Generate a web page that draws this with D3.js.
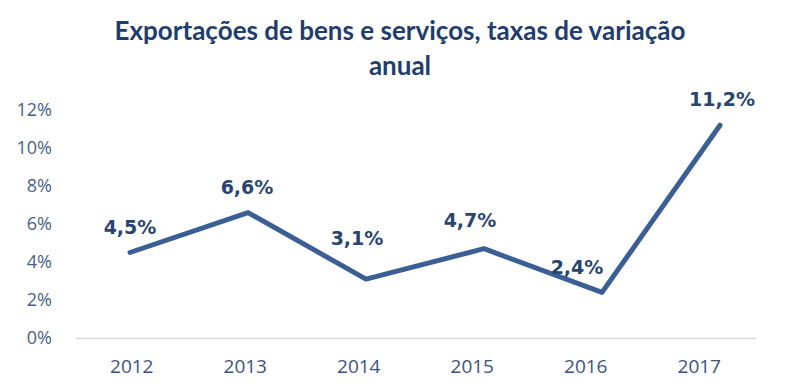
<!DOCTYPE html>
<html>
<head>
<meta charset="utf-8">
<script src="https://cdn.jsdelivr.net/npm/d3@7"></script>
<style>
  body { margin: 0; background: #fff; }
  svg { display: block; }
</style>
</head>
<body>
<svg class="chart"></svg>
<script>
var years = ["2012", "2013", "2014", "2015", "2016", "2017"];
var taxa = [4.5, 6.6, 3.1, 4.7, 2.4, 11.2];
var yTicks = [0, 2, 4, 6, 8, 10, 12];
var titleLines = ["Exportações de bens e serviços, taxas de variação", "anual"];

// label nudges (dx, dy) relative to each point
var labelNudge = [[0, -19], [-1, -19], [-9, -34], [-14, -22], [-25, -18], [2, -19]];

var width = 800;
var height = 392;
var svg = d3.select(".chart").attr("width", width).attr("height", height);

// category labels and line points are not aligned in the original picture
var xAxisScale = d3.scaleBand()
    .domain(years)
    .range([75, 756]);

var x = d3.scalePoint()
    .domain(years)
    .range([130, 720]);

var y = d3.scaleLinear()
    .domain([0, 12])
    .range([338, 110]);

// title
svg.append("text")
    .attr("x", 400)
    .attr("y", 40)
    .attr("text-anchor", "middle")
    .style("font-family", "Lato, 'Open Sans', sans-serif")
    .style("font-weight", "bold")
    .style("font-size", "26px")
    .style("fill", "#1f3d6d")
    .selectAll("tspan")
    .data(titleLines)
    .enter().append("tspan")
    .attr("x", 400)
    .attr("dy", function(d, i){ return i == 0 ? 0 : 35 })
    .text(function(d){ return d });

// y axis (labels only)
var yAxis = d3.axisLeft(y)
    .tickValues(yTicks)
    .tickFormat(function(d){ return d + "%" })
    .tickSize(0)
    .tickPadding(0);

var gy = svg.append("g")
    .attr("transform", "translate(52,0)")
    .call(yAxis);
gy.select(".domain").remove();
gy.selectAll("text")
    .style("font-family", "'Open Sans', sans-serif")
    .style("font-size", "18px")
    .style("fill", "#4a5f88");

// x axis
var xAxis = d3.axisBottom(xAxisScale).tickSize(0).tickPadding(22);
var gx = svg.append("g")
    .attr("transform", "translate(0," + y(0) + ")")
    .call(xAxis);
gx.select(".domain")
    .attr("stroke", "#d9d9d9")
    .attr("stroke-width", 1.5);
gx.selectAll("text")
    .style("font-family", "'Open Sans', sans-serif")
    .style("font-size", "19px")
    .style("fill", "#3b5382");

// line
var line = d3.line()
    .x(function(d, i){ return x(years[i]) })
    .y(function(d){ return y(d) });

svg.append("path")
    .datum(taxa)
    .attr("d", line)
    .attr("fill", "none")
    .attr("stroke", "#3b5f94")
    .attr("stroke-width", 5)
    .attr("stroke-linejoin", "round")
    .attr("stroke-linecap", "round");

// data labels
svg.selectAll(".lbl")
    .data(taxa)
    .enter().append("text")
    .attr("class", "lbl")
    .attr("x", function(d, i){ return x(years[i]) + labelNudge[i][0] })
    .attr("y", function(d, i){ return y(d) + labelNudge[i][1] })
    .attr("text-anchor", "middle")
    .style("font-family", "'DejaVu Sans', sans-serif")
    .style("font-weight", "bold")
    .style("font-size", "19px")
    .style("fill", "#284570")
    .text(function(d){ return d3.format(".1f")(d).replace(".", ",") + "%" });
</script>
</body>
</html>
